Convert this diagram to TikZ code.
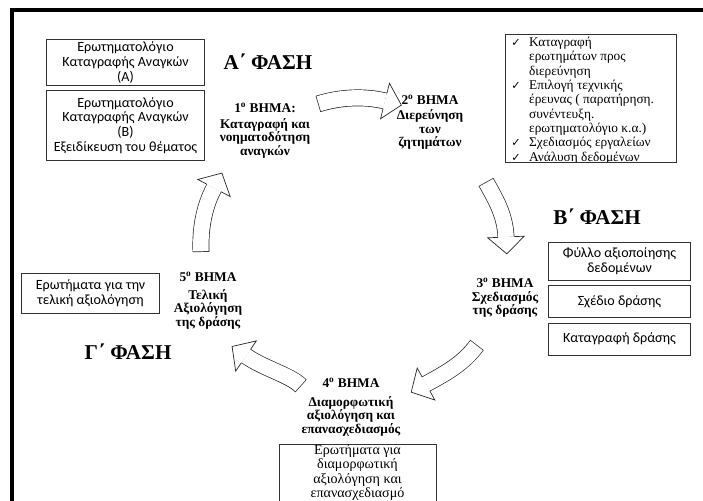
\documentclass[tikz,border=0pt]{standalone}
\usepackage{fontspec}
\setmainfont{Liberation Serif}
\newfontfamily\boxfont{Carlito}
\newfontfamily\symfont{DejaVu Sans}
\usetikzlibrary{decorations.markings}

\newcommand{\chk}{{\symfont\fontsize{8}{8}\selectfont ✓}}
% block arrow: outline, white body, open head
\newcommand{\blockarrow}[1]{%
  \draw[line width=12pt, black!85] #1;
  \draw[line width=11pt, white, shorten <=0.5pt] #1;
  \path[arrowhead] #1;}

\tikzset{
  boxline/.style={draw=black!80, line width=0.6pt},
  infobox/.style={boxline, font=\boxfont\fontsize{10}{10.5}\selectfont, align=center, inner sep=1pt},
  steptitle/.style={font=\bfseries\fontsize{9.5}{10}\selectfont, align=center},
  steptext/.style={font=\bfseries\fontsize{9.5}{9.6}\selectfont, align=center},
  phase/.style={font=\bfseries\fontsize{15}{17}\selectfont},
  arrowhead/.style={postaction={decorate, decoration={markings, mark=at position 1 with {
    \fill[white] (0pt,-13pt) -- (12pt,0pt) -- (0pt,13pt) -- cycle;
    \draw[black!85, line width=0.5pt, line join=miter] (0pt,5.75pt) -- (0pt,13pt) -- (12pt,0pt) -- (0pt,-13pt) -- (0pt,-5.75pt);}}}},
}

\begin{document}
\begin{tikzpicture}[x=0.025cm, y=-0.025cm]
\useasboundingbox (0,0) rectangle (703,500);
\clip (0,0) rectangle (703,500);
% Frame
\draw[line width=2.2pt] (12,510) -- (12,10) -- (710,10);
% Phase A
\node[phase] (phaseA) at (268,62) {Α΄ ΦΑΣΗ};
\node[infobox, minimum width=3.93cm, minimum height=1.13cm] (boxA) at (125.5,62.5)
  {Ερωτηματολόγιο\\Καταγραφής Αναγκών\\(Α)};
\node[infobox, minimum width=3.93cm, minimum height=1.73cm] (boxB) at (125.5,125.5)
  {Ερωτηματολόγιο\\Καταγραφής Αναγκών\\(Β)\\Εξειδίκευση του θέματος};
\node[steptitle] (step1) at (265,108) {1\textsuperscript{ο} ΒΗΜΑ:};
\node[steptext] (step1txt) at (265,138) {Καταγραφή και\\νοηματοδότηση\\αναγκών};
\node[steptitle] (step2) at (430,100) {2\textsuperscript{ο} ΒΗΜΑ};
\node[steptext] (step2txt) at (430,129.5) {Διερεύνηση\\των\\ζητημάτων};
% Checklist
\node[anchor=north west, inner sep=0pt, font=\fontsize{9.5}{10.2}\selectfont] (checklist) at (511,36)
  {\begin{tabular}{@{}l@{\hspace{6pt}}l@{}}
   \chk & Καταγραφή\\
        & ερωτημάτων προς\\
        & διερεύνηση\\
   \chk & Επιλογή τεχνικής\\
        & έρευνας ( παρατήρηση.\\
        & συνέντευξη.\\
        & ερωτηματολόγιο κ.α.)\\
   \chk & Σχεδιασμός εργαλείων\\
   \chk & Ανάλυση δεδομένων
   \end{tabular}};
\fill[white] (505,162.5) rectangle (676,175);
\draw[boxline] (505,34) rectangle (676,162);
% Phase B
\node[phase] (phaseB) at (597,217) {Β΄ ΦΑΣΗ};
\node[infobox, minimum width=3.53cm, minimum height=0.95cm] (boxC) at (619.5,261) {Φύλλο αξιοποίησης\\δεδομένων};
\node[infobox, minimum width=3.53cm, minimum height=0.78cm] (boxD) at (619.5,301.5) {Σχέδιο δράσης};
\node[infobox, minimum width=3.53cm, minimum height=0.8cm] (boxE) at (619.5,339) {Καταγραφή δράσης};
\node[steptext] (step3) at (505,298) {3\textsuperscript{ο} ΒΗΜΑ\\Σχεδιασμός\\της δράσης};
% Step 4
\node[steptitle] (step4) at (351,383) {4\textsuperscript{ο} ΒΗΜΑ};
\node[steptext] (step4txt) at (351,416) {Διαμορφωτική\\αξιολόγηση και\\επανασχεδιασμός};
\draw[boxline] (279,444) rectangle (436,520);
\node[anchor=north, align=center, inner sep=0pt, font=\fontsize{10}{10.1}\selectfont] (box4txt) at (357.5,444.5)
  {Ερωτήματα για\\διαμορφωτική\\αξιολόγηση και\\επανασχεδιασμό};
% Phase C
\node[phase] (phaseC) at (128,352) {Γ΄ ΦΑΣΗ};
\node[infobox, minimum width=3.43cm, minimum height=0.98cm] (boxF) at (90.5,293.5) {Ερωτήματα για την\\τελική αξιολόγηση};
\node[steptitle] (step5) at (208,277) {5\textsuperscript{ο} ΒΗΜΑ};
\node[steptext] (step5txt) at (208,309) {Τελική\\Αξιολόγηση\\της δράσης};
% Cycle arrows
\blockarrow{(318,104) .. controls (340,97) and (365,96) .. (385,101)}
\blockarrow{(486,182) .. controls (496,200) and (505,215) .. (506,237)}
\blockarrow{(477,345) .. controls (463,364) and (446,373) .. (426,384)}
\blockarrow{(301,386) .. controls (290,375) and (265,369) .. (246,356)}
\blockarrow{(201,252) .. controls (200,226) and (205,205) .. (214,188)}
\end{tikzpicture}
\end{document}
